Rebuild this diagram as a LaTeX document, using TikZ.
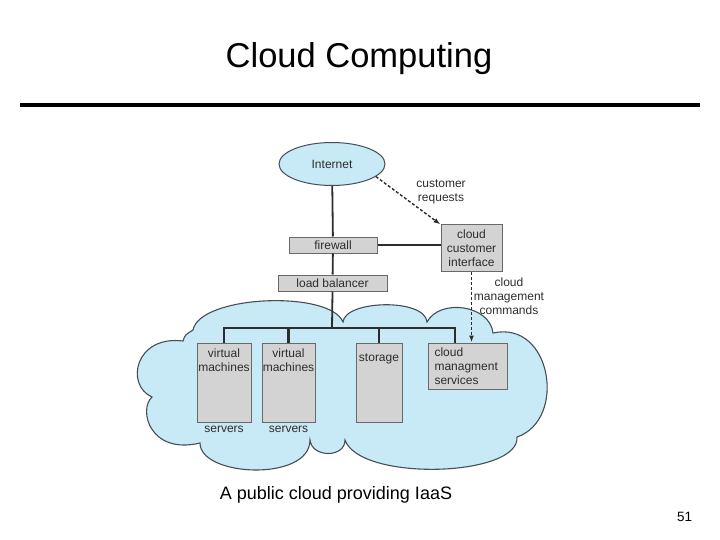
\documentclass[tikz,border=0pt]{standalone}
\usepackage{fontspec}
\setmainfont{Liberation Sans}
\usetikzlibrary{arrows.meta,shapes.geometric}

\definecolor{skyblue}{RGB}{200,233,246}
\definecolor{rimgray}{RGB}{70,78,86}
\definecolor{boxgray}{RGB}{211,211,211}
\definecolor{boxline}{RGB}{105,105,105}
\definecolor{inkgray}{RGB}{45,45,45}

\tikzset{
    box/.style={draw=boxline, fill=boxgray, line width=1pt, inner sep=0pt},
    txt/.style={font=\fontsize{12}{14}\selectfont, text=inkgray, align=center},
    wire/.style={draw=inkgray, line width=1.8pt},
    bus/.style={draw=inkgray, line width=2.6pt},
    dasharrow/.style={draw=inkgray, line width=1.4pt, dash pattern=on 3pt off 2pt,
        -{Latex[length=7pt,width=5pt]}}
}

\begin{document}
\begin{tikzpicture}[x=1pt,y=-1pt]
    \useasboundingbox (0,0) rectangle (720,540);
    % title and rule
    \node[font=\fontsize{34.5}{40}\selectfont] (title) at (359,59) {Cloud Computing};
    \draw[line width=4pt] (20,105) -- (700,105);

    % the cloud
    \draw[fill=skyblue, draw=rimgray, line width=1.1pt]
        (193,330) .. controls (200,295) and (330,290) .. (343,322)
        .. controls (345,300) and (425,298) .. (427,322)
        .. controls (440,298) and (490,305) .. (493,333)
        .. controls (552,320) and (567,420) .. (517,437)
        .. controls (520,477) and (360,482) .. (345,440)
        .. controls (345,458) and (312,458) .. (310,440)
        .. controls (310,482) and (200,477) .. (200,443)
        .. controls (150,455) and (138,410) .. (152,397)
        .. controls (125,385) and (135,335) .. (183,341)
        .. controls (185,335) .. cycle;

    % top part
    \node[ellipse, draw=rimgray, fill=skyblue, line width=1pt, minimum width=106,
        minimum height=43, txt] (inet) at (332,164) {Internet};
    \node[box, txt, minimum width=88, minimum height=16] (fw) at (333,245) {firewall};
    \node[box, txt, minimum width=109, minimum height=16] (lb) at (332.5,283) {load balancer};
    \node[box, txt, minimum width=61, minimum height=46] (cci) at (471.5,248)
        {cloud\\customer\\interface};
    \node[txt] (req) at (441,192) {customer\\requests};
    \node[txt] (cmd) at (509,296) {cloud\\management\\commands};

    % servers
    \node[box, minimum width=54, minimum height=79,
        label={[txt, anchor=north, inner sep=0pt, yshift=-6.5pt]north:{virtual\\machines}},
        label={[txt, inner sep=0pt, yshift=-3pt]south:servers}] (vm1) at (224,382.5) {};
    \node[box, minimum width=53, minimum height=79,
        label={[txt, anchor=north, inner sep=0pt, yshift=-6.5pt]north:{virtual\\machines}},
        label={[txt, inner sep=0pt, yshift=-3pt]south:servers}] (vm2) at (288.5,382.5) {};
    \node[box, minimum width=46, minimum height=79,
        label={[txt, anchor=north, inner sep=0pt, yshift=-11.5pt]north:storage}] (sto) at (379,382.5) {};
    \node[box, txt, minimum width=79, minimum height=46, align=left, text width=66]
        (cms) at (467.5,366) {cloud\\managment\\services};

    % wires
    \draw[wire] (inet) -- (fw);
    \draw[wire] (fw) -- (lb);
    \draw[wire] (fw.east) -- (fw.east -| cci.west);
    \coordinate (hub) at (332,328);
    \draw[wire] (lb.south) -- (hub);
    \draw[bus] (vm1.north) |- (hub) -| ([xshift=-12.5pt]cms.north);
    \draw[bus] (vm2.north) -- (vm2.north |- hub);
    \draw[bus] (sto.north) -- (sto.north |- hub);
    \draw[dasharrow] (inet.-16) -- (cci.north west);
    \draw[dasharrow] (cci.south) -- (cci.south |- cms.north);

    % caption
    \node[font=\fontsize{18}{22}\selectfont] (cap) at (336,495) {A public cloud providing IaaS};
    \node[font=\fontsize{13.5}{16}\selectfont] (pg) at (684.5,517) {51};
\end{tikzpicture}
\end{document}
